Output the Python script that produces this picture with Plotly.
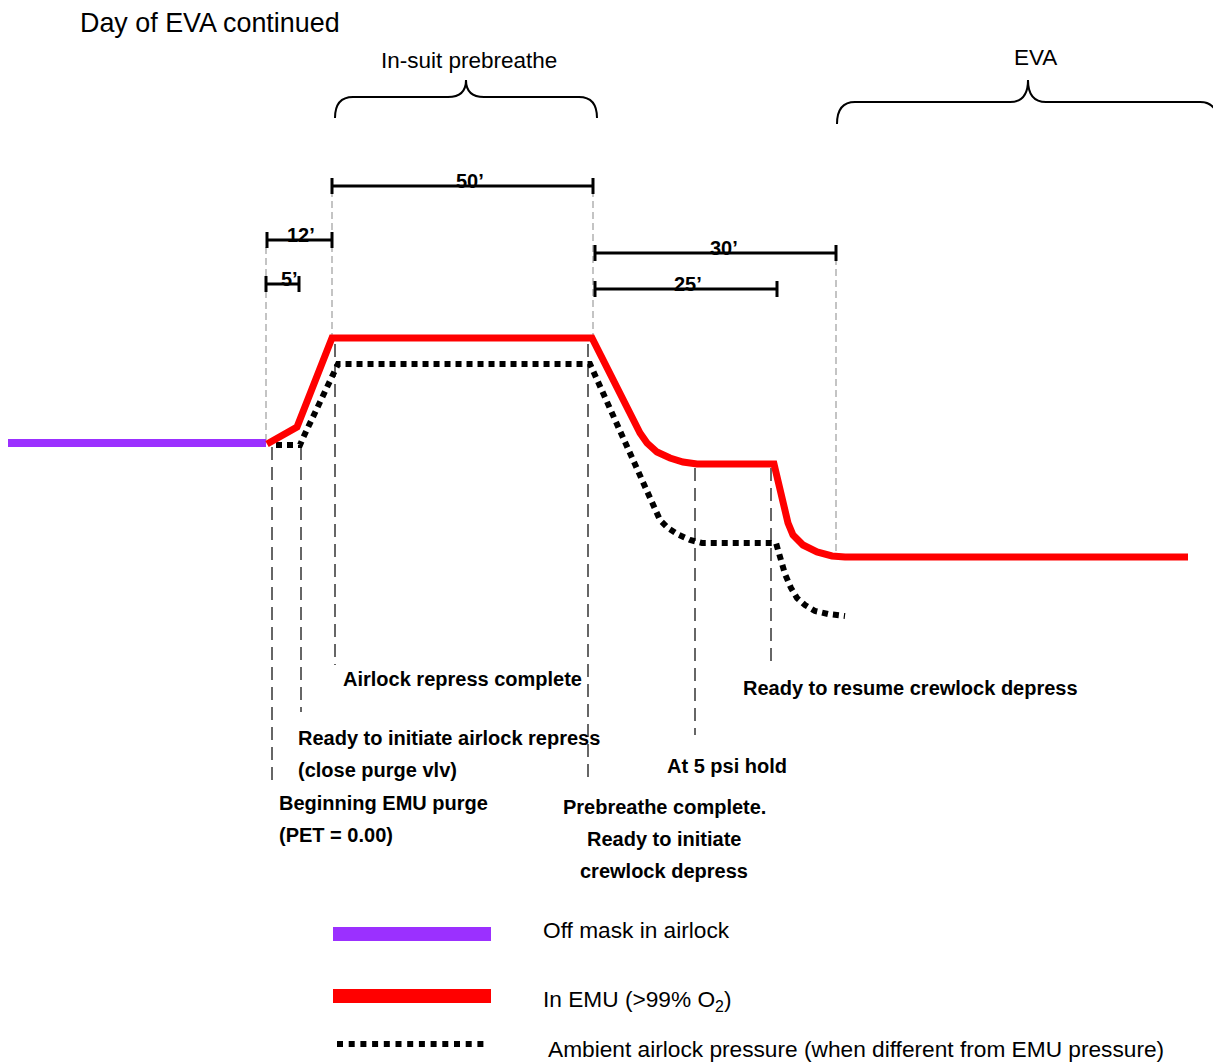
import plotly.graph_objects as go

W, H = 1213, 1062

# ---- data (diagram frame: x = timeline position, y = pressure position, screen-down) ----
mask_x = [8, 266]
mask_y = [443, 443]

emu_x = [267, 297, 332, 592, 640, 647, 657, 670, 683, 697, 774, 788, 793, 803, 817, 832, 845, 1188]
emu_y = [444, 427, 338, 338, 433, 443, 452, 458, 462, 464, 464, 523, 535, 545, 552, 556, 557, 557]

amb_x = [276, 300, 303, 338, 590, 655, 660, 668, 679, 690, 702, 776, 780, 785, 791, 797, 805, 815, 828, 845]
amb_y = [445, 445, 438, 364, 364, 510, 520, 528, 535, 540, 543, 543, 556, 574, 588, 598, 605, 611, 614, 616]

dim_labels = ["50\u2019", "12\u2019", "5\u2019", "30\u2019", "25\u2019"]
dim_x0 = [332, 267, 266, 595, 595]
dim_x1 = [593, 332, 299, 836, 777]
dim_y = [186, 240, 284, 253, 289]
dim_label_x = [470, 301, 289, 724, 688]

light_guide_x = [266, 332, 593, 836]
light_guide_y0 = [247, 190, 190, 258]
light_guide_y1 = [440, 336, 336, 553]

dark_guide_x = [272, 301, 335, 588, 695, 771]
dark_guide_y0 = [447, 447, 344, 344, 468, 468]
dark_guide_y1 = [785, 712, 665, 780, 735, 665]

event_labels = ["Airlock repress complete", "Ready to initiate airlock repress", "(close purge vlv)",
                "Beginning EMU purge", "(PET = 0.00)", "Prebreathe complete.", "Ready to initiate",
                "crewlock depress", "At 5 psi hold", "Ready to resume crewlock depress"]
event_x = [341, 296, 296, 277, 277, 664, 664, 664, 727, 741]
event_y = [679, 738, 770, 803, 835, 807, 839, 871, 766, 688]
event_align = ["left", "left", "left", "left", "left", "center", "center", "center", "center", "left"]

phase_labels = ["In-suit prebreathe", "EVA"]
phase_x0 = [335, 837]
phase_x1 = [597, 1218]
phase_tip = [466, 1028]
phase_label_x = [469, 1035]
phase_label_y = [60, 57]

legend_labels = ["Off mask in airlock", "In EMU (>99% O<sub>2</sub>)",
                 "Ambient airlock pressure (when different from EMU pressure)"]
legend_label_x = [541, 541, 546]
legend_y = [934, 996, 1044]
legend_text_y = [930, 1000, 1049]

PURPLE = "#9b30ff"
RED = "#ff0000"
FONT = "Liberation Sans, Arial, sans-serif"

fig = go.Figure()
shapes = []

# guide lines
for x, a, b in zip(light_guide_x, light_guide_y0, light_guide_y1):
    shapes.append(dict(type="line", x0=x, x1=x, y0=a, y1=b, xref="x", yref="y", layer="below",
                       line=dict(color="#c4c4c4", width=2, dash="7px,4px")))
for x, a, b in zip(dark_guide_x, dark_guide_y0, dark_guide_y1):
    shapes.append(dict(type="line", x0=x, x1=x, y0=a, y1=b, xref="x", yref="y", layer="below",
                       line=dict(color="#666666", width=2, dash="13px,7px")))

# dimension bars
for lab, a, b, y, lx in zip(dim_labels, dim_x0, dim_x1, dim_y, dim_label_x):
    shapes.append(dict(type="line", x0=a, x1=b, y0=y, y1=y, xref="x", yref="y",
                       line=dict(color="black", width=3)))
    for xe in (a, b):
        shapes.append(dict(type="line", x0=xe, x1=xe, y0=y - 8, y1=y + 8, xref="x", yref="y",
                           line=dict(color="black", width=3)))
    fig.add_annotation(x=lx, y=y - 5, text="<b>%s</b>" % lab, showarrow=False,
                       xanchor="center", yanchor="middle",
                       font=dict(family=FONT, size=20, color="black"))

# braces
for a, b, tip in zip(phase_x0, phase_x1, phase_tip):
    top = 80
    flat = 97 if a < 500 else 102
    end = 118 if a < 500 else 124
    r = 18
    path = (f"M {a},{end} Q {a},{flat} {a + r},{flat} L {tip - r},{flat} Q {tip},{flat} {tip},{top} "
            f"Q {tip},{flat} {tip + r},{flat} L {b - r},{flat} Q {b},{flat} {b},{end}")
    shapes.append(dict(type="path", path=path, xref="x", yref="y",
                       line=dict(color="black", width=2)))
for lab, x, y in zip(phase_labels, phase_label_x, phase_label_y):
    fig.add_annotation(x=x, y=y, text=lab, showarrow=False, xanchor="center", yanchor="middle",
                       font=dict(family=FONT, size=22.5, color="black"))

# main lines
fig.add_trace(go.Scatter(x=mask_x, y=mask_y, mode="lines", line=dict(color=PURPLE, width=8),
                         hoverinfo="skip", showlegend=False))
fig.add_trace(go.Scatter(x=amb_x, y=amb_y, mode="lines",
                         line=dict(color="black", width=6, dash="6px,5px"),
                         hoverinfo="skip", showlegend=False))
fig.add_trace(go.Scatter(x=emu_x, y=emu_y, mode="lines", line=dict(color=RED, width=7),
                         hoverinfo="skip", showlegend=False))

# event labels
for lab, x, y, al in zip(event_labels, event_x, event_y, event_align):
    fig.add_annotation(x=x, y=y, text="<b>%s</b>" % lab, showarrow=False,
                       xanchor=al, yanchor="middle",
                       font=dict(family=FONT, size=20, color="black"))

# legend
shapes.append(dict(type="rect", x0=333, x1=491, y0=legend_y[0] - 7, y1=legend_y[0] + 7,
                   xref="x", yref="y", fillcolor=PURPLE, line=dict(width=0)))
shapes.append(dict(type="rect", x0=333, x1=491, y0=legend_y[1] - 7, y1=legend_y[1] + 7,
                   xref="x", yref="y", fillcolor=RED, line=dict(width=0)))
fig.add_trace(go.Scatter(x=[337, 489], y=[legend_y[2], legend_y[2]], mode="lines",
                         line=dict(color="black", width=6, dash="6px,5.7px"),
                         hoverinfo="skip", showlegend=False))
for lab, x, y in zip(legend_labels, legend_label_x, legend_text_y):
    fig.add_annotation(x=x, y=y, text=lab, showarrow=False, xanchor="left", yanchor="middle",
                       font=dict(family=FONT, size=22.7, color="black"))

# title
fig.add_annotation(x=78, y=23, text="Day of EVA continued", showarrow=False,
                   xanchor="left", yanchor="middle", font=dict(family=FONT, size=26.9, color="black"))

fig.update_layout(
    width=W, height=H, margin=dict(l=0, r=0, t=0, b=0),
    paper_bgcolor="white", plot_bgcolor="white",
    xaxis=dict(range=[0, W], visible=False, fixedrange=True),
    yaxis=dict(range=[H, 0], visible=False, fixedrange=True),
    shapes=shapes, showlegend=False,
)

fig.write_html("out.html", config={"displayModeBar": False},
               post_script="document.body.style.margin='0';")
